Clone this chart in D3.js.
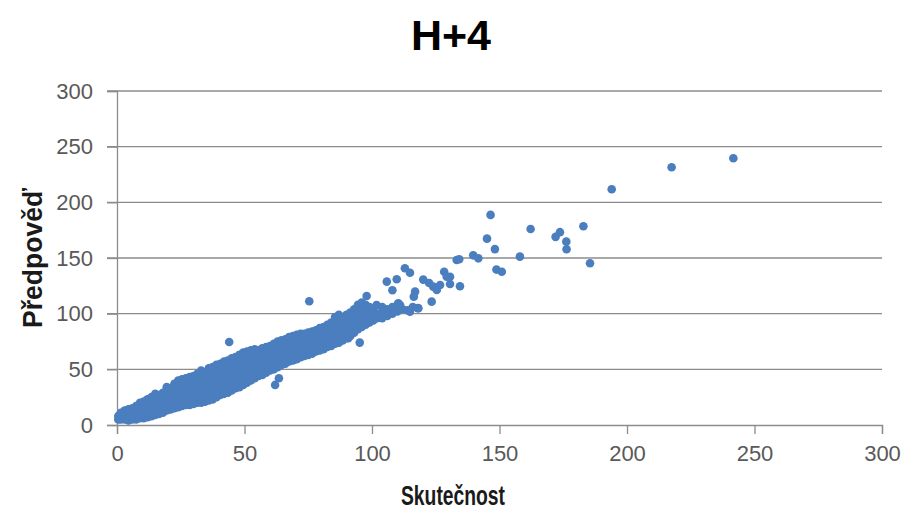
<!DOCTYPE html>
<html>
<head>
<meta charset="utf-8">
<script src="https://cdn.jsdelivr.net/npm/d3@7"></script>
<style>
body { margin: 0; background: #fff; }
text { font-family: "Liberation Sans", Arial, sans-serif; }
</style>
</head>
<body>
<script>
// data: [skutečnost, předpověď]
// dense band, one column of y values per x
let bandColumns = [
	[0.5, [5, 8]],
	[1.5, [5, 9, 11]],
	[3, [5, 8, 11, 13]],
	[4.5, [4, 8, 10, 14]],
	[6, [5, 9, 12, 15]],
	[7.5, [5, 9, 13, 17]],
	[9, [6, 10, 14, 18, 20]],
	[10.5, [6, 10, 14, 18, 21]],
	[12, [7, 11, 15, 19, 23]],
	[13.5, [8, 12, 16, 21, 25]],
	[15, [9, 13, 17, 21, 25, 28]],
	[16.5, [10, 14, 18, 23, 27]],
	[18, [11, 15, 20, 24, 29]],
	[19.5, [13, 17, 22, 26, 31, 34]],
	[21, [14, 18, 23, 28, 33]],
	[22.5, [15, 19, 24, 29, 34, 37]],
	[24, [16, 20, 25, 30, 35, 40]],
	[25.5, [17, 21, 26, 31, 36, 41]],
	[27, [18, 22, 27, 32, 37, 42]],
	[28.5, [18, 23, 28, 33, 38, 43]],
	[30, [19, 24, 29, 34, 39, 44]],
	[31.5, [20, 25, 30, 35, 40, 46]],
	[33, [20, 25, 30, 35, 40, 45, 49]],
	[34.5, [21, 26, 31, 36, 41, 46]],
	[36, [22, 27, 32, 37, 42, 47, 51]],
	[37.5, [23, 28, 33, 38, 43, 48, 52]],
	[39, [25, 30, 35, 40, 45, 50, 54]],
	[40.5, [27, 32, 37, 42, 47, 52, 55]],
	[42, [28, 33, 38, 43, 48, 53, 57]],
	[43.5, [29, 34, 39, 44, 49, 54, 58]],
	[45, [31, 36, 41, 46, 51, 56, 60]],
	[46.5, [33, 37, 42, 47, 52, 57, 61]],
	[48, [34, 39, 44, 49, 54, 59, 63]],
	[49.5, [36, 41, 46, 51, 56, 61, 65]],
	[51, [38, 43, 48, 53, 58, 63, 66]],
	[52.5, [40, 45, 50, 55, 60, 64, 67]],
	[54, [42, 46, 51, 56, 61, 65, 68]],
	[55.5, [44, 48, 53, 58, 62, 67]],
	[57, [45, 49, 54, 59, 64, 69]],
	[58.5, [47, 51, 56, 61, 65, 70]],
	[60, [49, 53, 58, 63, 67, 71]],
	[61.5, [50, 55, 60, 64, 69, 73]],
	[63, [52, 56, 61, 66, 70, 75]],
	[64.5, [54, 58, 63, 67, 72, 76]],
	[66, [55, 60, 64, 69, 73, 77]],
	[67.5, [57, 61, 66, 70, 75, 79]],
	[69, [58, 63, 67, 72, 76, 80]],
	[70.5, [59, 64, 68, 73, 77, 81]],
	[72, [61, 65, 70, 74, 78, 82]],
	[73.5, [62, 66, 71, 75, 79, 82]],
	[75, [63, 67, 72, 76, 80, 83]],
	[76.5, [64, 68, 73, 77, 81, 84]],
	[78, [66, 70, 74, 78, 82, 85]],
	[79.5, [67, 71, 75, 79, 83, 87]],
	[81, [68, 72, 76, 80, 84, 88]],
	[82.5, [70, 74, 78, 82, 86, 90]],
	[84, [71, 75, 79, 83, 87, 92]],
	[85.5, [73, 77, 81, 85, 89, 94, 97]],
	[87, [74, 78, 82, 86, 90, 95, 99]],
	[88.5, [76, 80, 84, 88, 92, 97]],
	[90, [78, 82, 86, 90, 94, 99]],
	[91.5, [80, 84, 88, 92, 96, 101]],
	[93, [83, 87, 91, 95, 99, 104]],
	[94.5, [86, 90, 94, 98, 103, 108]],
	[96, [88, 92, 96, 100, 105, 110]],
	[97.5, [90, 94, 98, 103, 108]],
	[99, [92, 96, 100, 106]],
	[100.5, [94, 98, 103]],
	[102, [96, 100]],
	[104, [96, 101, 106]],
	[106, [98, 104]],
	[108, [100, 106]],
	[110, [102, 108]],
	[112, [104]],
	[114, [103]],
	[116, [106]],
	[118, [105]]
];

let outliers = [
	[75.4, 111.2], [44, 74.5], [62, 36], [63.5, 42], [95.2, 74], [90.7, 77.9],
	[97.9, 115.9], [101.8, 107.8], [105.8, 128.8], [109.7, 130.9], [108, 121],
	[110.3, 109.3], [112.9, 140.8], [114.9, 136.8], [116.9, 119.8], [116.4, 115.3],
	[118.2, 104.8], [114.9, 101.8], [111, 107.8], [120.1, 130.6], [122.4, 127.6],
	[123.4, 110.8], [124, 124.3], [125.4, 121.3], [126.7, 125.8], [128.3, 137.7],
	[129.3, 133.2], [130.6, 133.2], [130.6, 126.7], [133.2, 148.2], [134.5, 124.6],
	[134.2, 148.9], [139.7, 152.4], [141.7, 149.7], [145.1, 167.4], [146.5, 188.7],
	[148.2, 158], [148.8, 139.6], [150.9, 137.7], [158, 151.2], [162.2, 176],
	[172, 169], [173.7, 173.2], [176.2, 164.7], [176.3, 157.8], [182.9, 178.5],
	[185.5, 145.3], [194, 211.7], [217.5, 231.5], [241.7, 239.6]
];

let ticks = [0, 50, 100, 150, 200, 250, 300];
let title = "H+4",
	xTitle = "Skutečnost",
	yTitle = "Předpověď";

let points = [];
bandColumns.forEach(function(c){
	c[1].forEach(function(v){ points.push([c[0], v]); });
});
points = points.concat(outliers);

let width = 906, height = 517;
let plotLeft = 117, plotRight = 882, plotTop = 91, plotBottom = 425;

let x = d3.scaleLinear().domain([0, 300]).range([plotLeft, plotRight]),
	y = d3.scaleLinear().domain([0, 300]).range([plotBottom, plotTop]);

let svg = d3.select("body").append("svg")
	.attr("width", width)
	.attr("height", height);

// gridlines
svg.append("g")
	.selectAll("line")
	.data(ticks.slice(1))
	.enter()
	.append("line")
	.attr("x1", plotLeft - 10)
	.attr("x2", plotRight)
	.attr("y1", function(d){ return y(d); })
	.attr("y2", function(d){ return y(d); })
	.attr("stroke", "#8c8c8c")
	.attr("stroke-width", 1.3);

let yAxis = svg.append("g")
	.attr("transform", "translate(" + plotLeft + ",0)")
	.call(d3.axisLeft(y).tickValues(ticks).tickSize(10).tickPadding(14));

let xAxis = svg.append("g")
	.attr("transform", "translate(0," + plotBottom + ")")
	.call(d3.axisBottom(x).tickValues(ticks).tickSize(9).tickPadding(11));

[xAxis, yAxis].forEach(function(a){
	a.select(".domain").attr("stroke", "#8c8c8c").attr("stroke-width", 1.3);
	a.selectAll(".tick line").attr("stroke", "#8c8c8c").attr("stroke-width", 1.3);
	a.selectAll(".tick text")
		.attr("fill", "#595959")
		.style("font-size", "22px")
		.style("font-family", "'Liberation Sans', Arial, sans-serif");
});

svg.append("g")
	.selectAll("circle")
	.data(points)
	.enter()
	.append("circle")
	.attr("cx", function(d){ return x(d[0]); })
	.attr("cy", function(d){ return y(d[1]); })
	.attr("r", 4.3)
	.attr("fill", "#4a7ebf");

svg.append("text")
	.attr("x", 451)
	.attr("y", 50)
	.attr("text-anchor", "middle")
	.style("font-size", "43px")
	.style("font-weight", "bold")
	.text(title);

svg.append("text")
	.attr("x", 453)
	.attr("y", 505)
	.attr("text-anchor", "middle")
	.attr("textLength", 104)
	.attr("lengthAdjust", "spacingAndGlyphs")
	.style("font-size", "28px")
	.style("font-weight", "bold")
	.style("fill", "#1a1a1a")
	.text(xTitle);

svg.append("text")
	.attr("transform", "translate(42,258) rotate(-90)")
	.attr("text-anchor", "middle")
	.attr("textLength", 140)
	.attr("lengthAdjust", "spacingAndGlyphs")
	.style("font-size", "28px")
	.style("font-weight", "bold")
	.style("fill", "#1a1a1a")
	.text(yTitle);
</script>
</body>
</html>
